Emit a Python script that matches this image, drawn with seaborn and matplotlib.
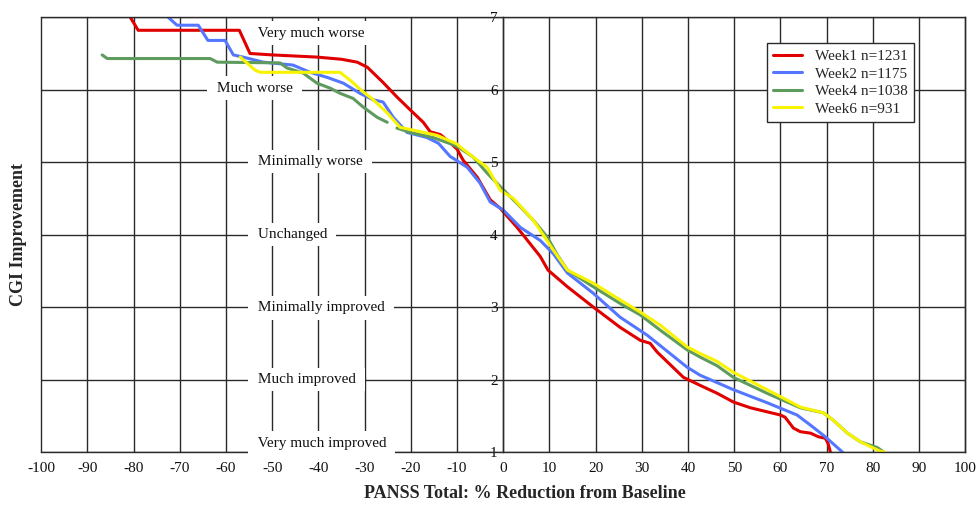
import matplotlib
matplotlib.use('Agg')
import matplotlib.pyplot as plt
import seaborn as sns
import numpy as np
import pandas as pd

# CGI score vs % reduction in PANSS total, one curve per visit week
week1_x = [-80.7, -79.0, -57.1, -54.8, -50.0, -40.3, -35.0, -31.6, -29.4, -26.0, -23.0, -20.1,
           -17.3, -15.8, -13.6, -11.5, -10.0, -8.7, -5.6, -2.8, -0.6, 3.0, 8.0, 9.7, 13.9, 19.5,
           25.3, 29.7, 31.8, 33.3, 39.0, 42.6, 46.3, 49.8, 53.5, 60.0, 61.0, 62.8, 64.3, 66.5,
           68.2, 69.7, 70.3, 70.8]
week1_y = [7.0, 6.82, 6.82, 6.50, 6.48, 6.45, 6.42, 6.38, 6.31, 6.10, 5.90, 5.72,
           5.55, 5.42, 5.38, 5.27, 5.18, 5.03, 4.79, 4.48, 4.36, 4.10, 3.70, 3.51, 3.28, 3.00,
           2.72, 2.54, 2.50, 2.38, 2.03, 1.92, 1.81, 1.69, 1.61, 1.51, 1.48, 1.33, 1.28, 1.26,
           1.21, 1.19, 1.12, 1.0]

week2_x = [-72.5, -70.6, -66.0, -63.9, -60.2, -58.4, -56.3, -51.9, -45.5, -41.8, -38.1, -34.6,
           -31.0, -28.1, -26.0, -23.8, -20.8, -16.5, -14.0, -11.5, -7.8, -5.0, -2.8, 0.0, 3.7,
           8.0, 10.8, 13.9, 19.5, 25.3, 31.2, 39.8, 42.6, 49.8, 57.1, 63.6, 66.5, 69.7, 73.4]
week2_y = [7.0, 6.89, 6.89, 6.68, 6.68, 6.48, 6.45, 6.38, 6.34, 6.24, 6.17, 6.09,
           5.95, 5.86, 5.83, 5.62, 5.41, 5.34, 5.26, 5.08, 4.93, 4.71, 4.45, 4.34, 4.10,
           3.92, 3.74, 3.47, 3.19, 2.86, 2.61, 2.17, 2.06, 1.86, 1.68, 1.51, 1.37, 1.21, 1.0]

# NaN marks the short break in the week 4 curve
week4_x = [-86.8, -85.7, -63.4, -61.9, -48.3, -46.8, -43.3, -40.3, -37.4, -35.3, -32.5, -30.3,
           -27.3, -25.1, np.nan, -23.0, -20.1, -15.2, -10.8, -9.3, -6.5, -3.5, -0.6, 3.0, 6.5,
           9.5, 11.7, 13.9, 19.5, 25.3, 29.7, 34.0, 39.8, 42.6, 46.3, 49.8, 57.1, 64.3, 69.3,
           71.4, 74.5, 77.3, 81.0, 82.3]
week4_y = [6.48, 6.43, 6.43, 6.38, 6.37, 6.30, 6.23, 6.09, 6.02, 5.95, 5.88, 5.76,
           5.62, 5.55, np.nan, 5.47, 5.41, 5.34, 5.24, 5.19, 5.07, 4.85, 4.66, 4.43, 4.20,
           3.97, 3.72, 3.51, 3.28, 3.05, 2.89, 2.68, 2.41, 2.31, 2.19, 2.03, 1.81, 1.61, 1.54,
           1.44, 1.26, 1.14, 1.06, 1.0]

week6_x = [-56.9, -53.7, -52.6, -35.3, -33.1, -30.3, -28.1, -25.1, -22.3, -18.6, -14.3, -10.0,
           -9.3, -6.5, -3.5, -0.6, 2.2, 6.5, 8.0, 10.8, 13.9, 19.5, 25.3, 29.7, 34.0, 39.8,
           42.6, 46.3, 49.8, 57.1, 64.3, 69.3, 71.4, 74.5, 77.3, 81.6, 82.5]
week6_y = [6.45, 6.27, 6.24, 6.24, 6.13, 5.97, 5.86, 5.68, 5.48, 5.43, 5.37, 5.25,
           5.21, 5.07, 4.93, 4.61, 4.50, 4.20, 4.06, 3.79, 3.51, 3.33, 3.10, 2.93, 2.75, 2.45,
           2.36, 2.25, 2.10, 1.86, 1.62, 1.54, 1.44, 1.26, 1.14, 1.01, 1.0]

series_names = ["Week1 n=1231", "Week2 n=1175", "Week4 n=1038", "Week6 n=931"]
series_colors = ["#e00000", "#5577ff", "#5f9a5f", "#f8f400"]

cgi_labels = ["Very much worse", "Much worse", "Minimally worse", "Unchanged",
              "Minimally improved", "Much improved", "Very much improved"]
label_x = [-54.0, -62.9, -54.0, -54.0, -54.0, -54.0, -54.0]
label_y = [6.78, 6.02, 5.01, 4.0, 2.99, 2.0, 1.12]

frames = []
for name, xs, ys in zip(series_names, [week1_x, week2_x, week4_x, week6_x],
                        [week1_y, week2_y, week4_y, week6_y]):
    d = pd.DataFrame({"pct": xs, "cgi": ys})
    d["seg"] = name + "-" + d["pct"].isna().cumsum().astype(str)
    d["series"] = name
    frames.append(d.dropna())
df = pd.concat(frames, ignore_index=True)

sns.set_style("white")
plt.rcParams['font.family'] = ['Liberation Serif', 'DejaVu Serif']
plt.rcParams['axes.unicode_minus'] = False

fig = plt.figure(figsize=(9.79, 5.07), dpi=100)
ax = fig.add_axes([0.042, 0.1085, 0.944, 0.8575])

sns.lineplot(data=df, x="pct", y="cgi", hue="series", units="seg", estimator=None,
             sort=False, palette=dict(zip(series_names, series_colors)),
             linewidth=2.2, ax=ax)

ax.set_xlim(-100, 100)
ax.set_ylim(1, 7)
ax.set_xticks(range(-100, 101, 10))
ax.set_yticks(range(1, 8))
ax.set_axisbelow(True)
ax.grid(True, color="#2a2a2a", linewidth=1.0)
for gl in ax.get_xgridlines() + ax.get_ygridlines():
    gl.set_clip_on(False)

for side in ["top", "right", "bottom", "left"]:
    ax.spines[side].set_visible(True)
    ax.spines[side].set_color("#2a2a2a")
    ax.spines[side].set_linewidth(1.0)
ax.spines["left"].set_position(("data", 0))

ax.tick_params(axis="both", direction="inout", length=6, width=1.0, color="#2a2a2a",
               labelsize=11, labelcolor="#111111")
ax.tick_params(axis="y", pad=1)
ax.tick_params(axis="x", pad=4)
ax.set_xlabel("")
ax.set_ylabel("")

for lab, lx, ly in zip(cgi_labels, label_x, label_y):
    ax.text(lx, ly, " " + lab + " ", ha="left", va="center", fontsize=11, color="#111111",
            zorder=5, bbox=dict(boxstyle="square,pad=0.35", facecolor="white", edgecolor="none"))

handles, labels = ax.get_legend_handles_labels()
leg = ax.legend(handles, labels, loc="upper right", bbox_to_anchor=(0.944, 0.940),
                borderaxespad=0, frameon=True, fancybox=False, framealpha=1,
                edgecolor="#2a2a2a", fontsize=11, handlelength=1.9, labelspacing=0.25,
                handletextpad=0.8, borderpad=0.4)
leg.get_frame().set_linewidth(1.0)
leg.set_zorder(6)

fig.text(0.536, 0.026, "PANSS Total: % Reduction from Baseline", ha="center", va="center",
         fontsize=13, fontweight="bold")
fig.text(0.019, 0.538, "CGI Improvement", ha="center", va="center", rotation=90,
         fontsize=13, fontweight="bold")

fig.savefig("out.png", dpi=100)
